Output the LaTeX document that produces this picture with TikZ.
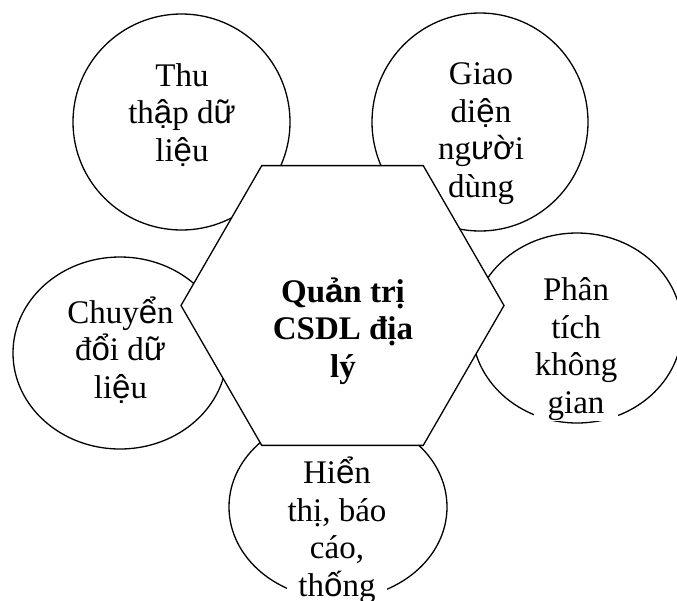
\documentclass[tikz,border=0pt]{standalone}
\usepackage{fontspec}
\setmainfont{Liberation Serif}
\newfontfamily\altsans{Liberation Sans}
\usetikzlibrary{shapes.geometric}

% letters with stacked marks come out in the sans face
\newcommand{\vs}[1]{{\altsans #1}}

\begin{document}
\begin{tikzpicture}
  [x=1pt,y=-1pt,
   bubble/.style={draw,ellipse,line width=1.3pt,inner sep=0pt},
   lbl/.style={align=center,anchor=base,inner sep=1pt,
     font=\fontsize{33}{37.5}\selectfont}]
  \useasboundingbox (0,0) rectangle (677,600);

  % outer bubbles
  \node[bubble,minimum width=217pt,minimum height=216pt] (collect) at (181.5,122) {};
  \node[bubble,minimum width=216pt,minimum height=218pt] (ui) at (480,122) {};
  \node[bubble,minimum width=210pt,minimum height=190pt] (analysis) at (577,328) {};
  \node[bubble,minimum width=214pt,minimum height=192pt] (convert) at (120,353) {};
  \node[bubble,minimum width=218pt,minimum height=184pt] (report) at (338,507) {};

  % centre hexagon on top
  \node[regular polygon,regular polygon sides=6,minimum size=323pt,
        draw,fill=white,line width=1.3pt,inner sep=0pt] (core) at (342.5,305.5) {};

  % texts (base = last line)
  \node[lbl] (collect-t) at (182,161) {Thu\\th\vs{ậ}p d\vs{ữ}\\li\vs{ệ}u};
  \node[lbl] (ui-t) at (481,197) {Giao\\di\vs{ệ}n\\ng\vs{ườ}i\\dùng};
  \node[lbl,fill=white] (analysis-t) at (576,413) {Phân\\tích\\không\\gian};
  \node[lbl] (convert-t) at (120.5,398) {Chuy\vs{ể}n\\đ\vs{ổ}i d\vs{ữ}\\li\vs{ệ}u};
  \node[lbl,fill=white] (report-t) at (337,596) {Hi\vs{ể}n\\thị, báo\\cáo,\\th\vs{ố}ng};
  \node[lbl,font=\fontsize{33}{37.5}\selectfont\bfseries] (core-t) at (343,377)
    {Qu\vs{ả}n trị\\CSDL địa\\lý};
\end{tikzpicture}
\end{document}
